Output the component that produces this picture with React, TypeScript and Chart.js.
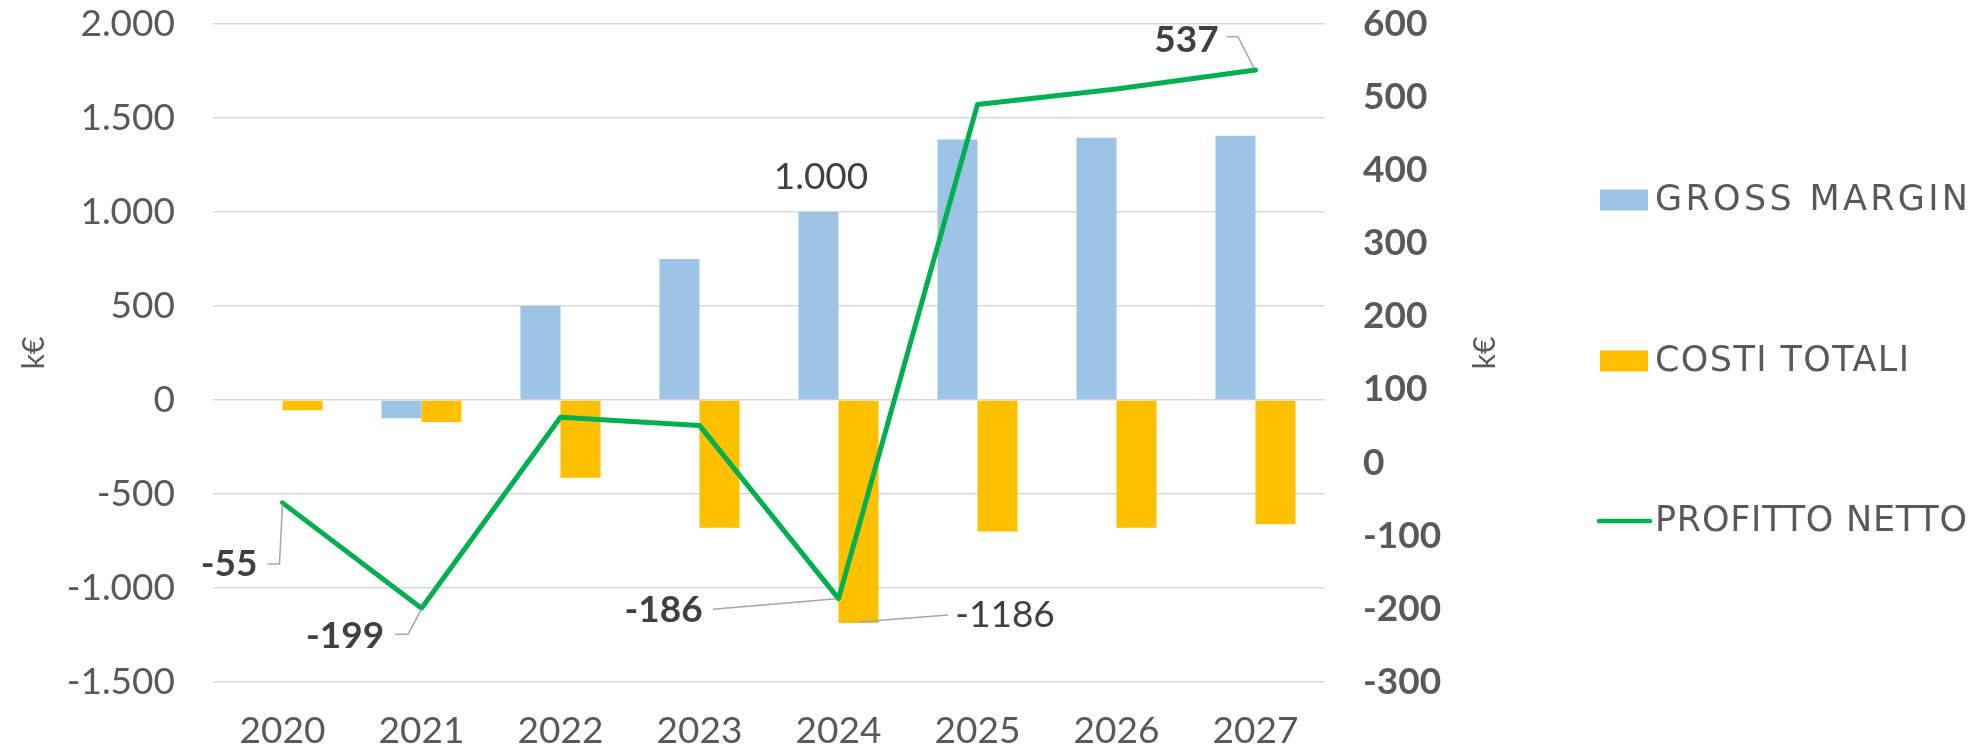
import React, { useEffect, useRef } from 'react';
import { Chart, registerables } from 'chart.js';

Chart.register(...registerables);

// ---------- data ----------
const categories = ['2020', '2021', '2022', '2023', '2024', '2025', '2026', '2027'];
const grossMargin = [0, -97, 500, 750, 1000, 1385, 1395, 1405];
const costiTotali = [-55, -117, -413, -679, -1186, -699, -679, -661];
const profittoNetto = [-55, -199, 62, 51, -186, 490, 511, 537];
const seriesNames = ['GROSS MARGIN', 'COSTI TOTALI', 'PROFITTO NETTO'];
const leftAxisRange = [-1500, 2000, 500];
const rightAxisRange = [-300, 600, 100];
const axisTitle = 'k€';

// ---------- style ----------
const FONT = 'Lato';
const LEGEND_FONT = '"DejaVu Sans"';
const TEXT = '#595959';
const LABEL = '#404040';
const BLUE = '#9DC3E6';
const ORANGE = '#FFC000';
const GREEN = '#00B050';
const GRID = '#d9d9d9';
const legendTextWidths = [313, 254, 312];

const fmt = (v: number) => {
  const s = Math.abs(Math.round(v)).toString().replace(/\B(?=(\d{3})+(?!\d))/g, '.');
  return (v < 0 ? '-' : '') + s;
};

type Ann = {
  ds: number;
  i: number;
  text: string;
  bold: boolean;
  dx: number;
  dy: number;
  leader?: number[][];
};

// data labels (ds: 0 = gross margin, 1 = costi, 2 = profitto)
const annotations: Ann[] = [
  { ds: 2, i: 0, text: fmt(profittoNetto[0]), bold: true, dx: -53.5, dy: 61, leader: [[-15, 61], [-3, 61], [0, 1]] },
  { ds: 2, i: 1, text: fmt(profittoNetto[1]), bold: true, dx: -76.5, dy: 28, leader: [[-26.5, 26], [-13.5, 26], [0, 1]] },
  { ds: 2, i: 4, text: fmt(profittoNetto[4]), bold: true, dx: -175, dy: 11, leader: [[-125.5, 10.6], [-2, 0]] },
  { ds: 2, i: 7, text: fmt(profittoNetto[7]), bold: true, dx: -69, dy: -30, leader: [[-28.5, -33.3], [-17.5, -33.3], [-1.5, -2]] },
  { ds: 1, i: 4, text: String(costiTotali[4]), bold: false, dx: 146.5, dy: -8, leader: [[0, -1], [89.5, -8]] },
  { ds: 0, i: 4, text: fmt(grossMargin[4]), bold: false, dx: 2.5, dy: -35 },
];

const annotPlugin = {
  id: 'annotations',
  afterDatasetsDraw(chart: any) {
    const ctx = chart.ctx as CanvasRenderingContext2D;
    ctx.save();
    for (const a of annotations) {
      const el = chart.getDatasetMeta(a.ds).data[a.i];
      if (!el) continue;
      const x = el.x;
      const y = el.y;
      if (a.leader) {
        ctx.beginPath();
        ctx.strokeStyle = '#a6a6a6';
        ctx.lineWidth = 1.5;
        a.leader.forEach(([px, py], k) => {
          if (k === 0) ctx.moveTo(x + px, y + py);
          else ctx.lineTo(x + px, y + py);
        });
        ctx.stroke();
      }
      ctx.font = `${a.bold ? 'bold ' : ''}37px ${FONT}`;
      ctx.fillStyle = LABEL;
      ctx.textAlign = 'center';
      ctx.textBaseline = 'middle';
      ctx.fillText(a.text, x + a.dx, y + a.dy);
    }
    ctx.restore();
  },
};

const legendPlugin = {
  id: 'customLegend',
  afterDraw(chart: any) {
    const ctx = chart.ctx as CanvasRenderingContext2D;
    const area = chart.chartArea;
    const midY = (area.top + area.bottom) / 2;
    ctx.save();
    // axis titles
    ctx.font = `30px ${FONT}`;
    ctx.fillStyle = TEXT;
    ctx.textAlign = 'center';
    ctx.textBaseline = 'middle';
    const drawTitle = (cx: number) => {
      ctx.save();
      ctx.translate(cx, midY);
      ctx.rotate(-Math.PI / 2);
      ctx.fillText(axisTitle, 0, 0);
      ctx.restore();
    };
    drawTitle(34);
    drawTitle(chart.scales.y1.right - 15);

    // legend
    const lx = 1600;
    const tx = 1655;
    const rows = [200, 361, 521];
    const colors = [BLUE, ORANGE, GREEN];
    ctx.font = `35px ${LEGEND_FONT}`;
    ctx.textAlign = 'left';
    seriesNames.forEach((name, k) => {
      const cy = rows[k];
      if (k < 2) {
        ctx.fillStyle = colors[k];
        ctx.fillRect(lx, cy - 10.5, 48, 21);
      } else {
        ctx.strokeStyle = colors[k];
        ctx.lineWidth = 4.5;
        ctx.lineCap = 'round';
        ctx.beginPath();
        ctx.moveTo(lx - 1, cy);
        ctx.lineTo(lx + 50, cy);
        ctx.stroke();
      }
      (ctx as any).letterSpacing = '0px';
      const natural = ctx.measureText(name).width;
      const ls = (legendTextWidths[k] - natural) / Math.max(name.length - 1, 1);
      (ctx as any).letterSpacing = `${ls.toFixed(2)}px`;
      ctx.fillStyle = TEXT;
      ctx.fillText(name, tx, cy + 1);
    });
    ctx.restore();
  },
};

export default function App() {
  const ref = useRef<HTMLCanvasElement | null>(null);

  useEffect(() => {
    if (!ref.current) return;
    Chart.defaults.font.family = FONT;
    const vFit = (w: number) => (s: any) => {
      s.width = w;
      s.paddingTop = 0;
      s.paddingBottom = 0;
    };
    const chart = new Chart(ref.current, {
      type: 'bar',
      data: {
        labels: categories,
        datasets: [
          {
            type: 'bar',
            label: seriesNames[0],
            data: grossMargin,
            backgroundColor: BLUE,
            yAxisID: 'y',
            order: 1,
            categoryPercentage: 0.576,
            barPercentage: 1,
          },
          {
            type: 'bar',
            label: seriesNames[1],
            data: costiTotali,
            backgroundColor: ORANGE,
            yAxisID: 'y',
            order: 1,
            categoryPercentage: 0.576,
            barPercentage: 1,
          },
          {
            type: 'line',
            label: seriesNames[2],
            data: profittoNetto,
            borderColor: GREEN,
            backgroundColor: GREEN,
            borderWidth: 5,
            pointRadius: 0,
            tension: 0,
            borderJoinStyle: 'round',
            borderCapStyle: 'round',
            yAxisID: 'y1',
            order: 0,
          } as any,
        ],
      },
      options: {
        responsive: false,
        animation: false,
        layout: { padding: { top: 24, right: 477, left: 0, bottom: 0 } },
        plugins: {
          legend: { display: false },
          tooltip: { enabled: false },
        },
        scales: {
          x: {
            grid: { display: false, drawTicks: false },
            border: { display: false },
            ticks: { font: { family: FONT, size: 37 }, color: TEXT, padding: 27 },
            afterFit: (s: any) => {
              s.height = 69;
              s.paddingLeft = 0;
              s.paddingRight = 0;
            },
          },
          y: {
            position: 'left',
            min: leftAxisRange[0],
            max: leftAxisRange[1],
            ticks: {
              stepSize: leftAxisRange[2],
              font: { family: FONT, size: 37 },
              color: TEXT,
              padding: 38,
              callback: (v: any) => fmt(Number(v)),
            },
            grid: { color: GRID, lineWidth: 1.5, drawTicks: false },
            border: { display: false },
            afterFit: vFit(213),
          },
          y1: {
            position: 'right',
            min: rightAxisRange[0],
            max: rightAxisRange[1],
            ticks: {
              stepSize: rightAxisRange[2],
              font: { family: FONT, size: 37, weight: 'bold' },
              color: TEXT,
              padding: 38,
            },
            grid: { display: false, drawTicks: false },
            border: { display: false },
            afterFit: vFit(175),
          },
        },
      } as any,
      plugins: [annotPlugin, legendPlugin],
    });
    return () => chart.destroy();
  }, []);

  return (
    <div
      style={{
        position: 'fixed',
        left: 0,
        top: 0,
        width: 1977,
        height: 751,
        background: '#ffffff',
      }}
    >
      <canvas ref={ref} width={1977} height={751} style={{ display: 'block' }} />
    </div>
  );
}
